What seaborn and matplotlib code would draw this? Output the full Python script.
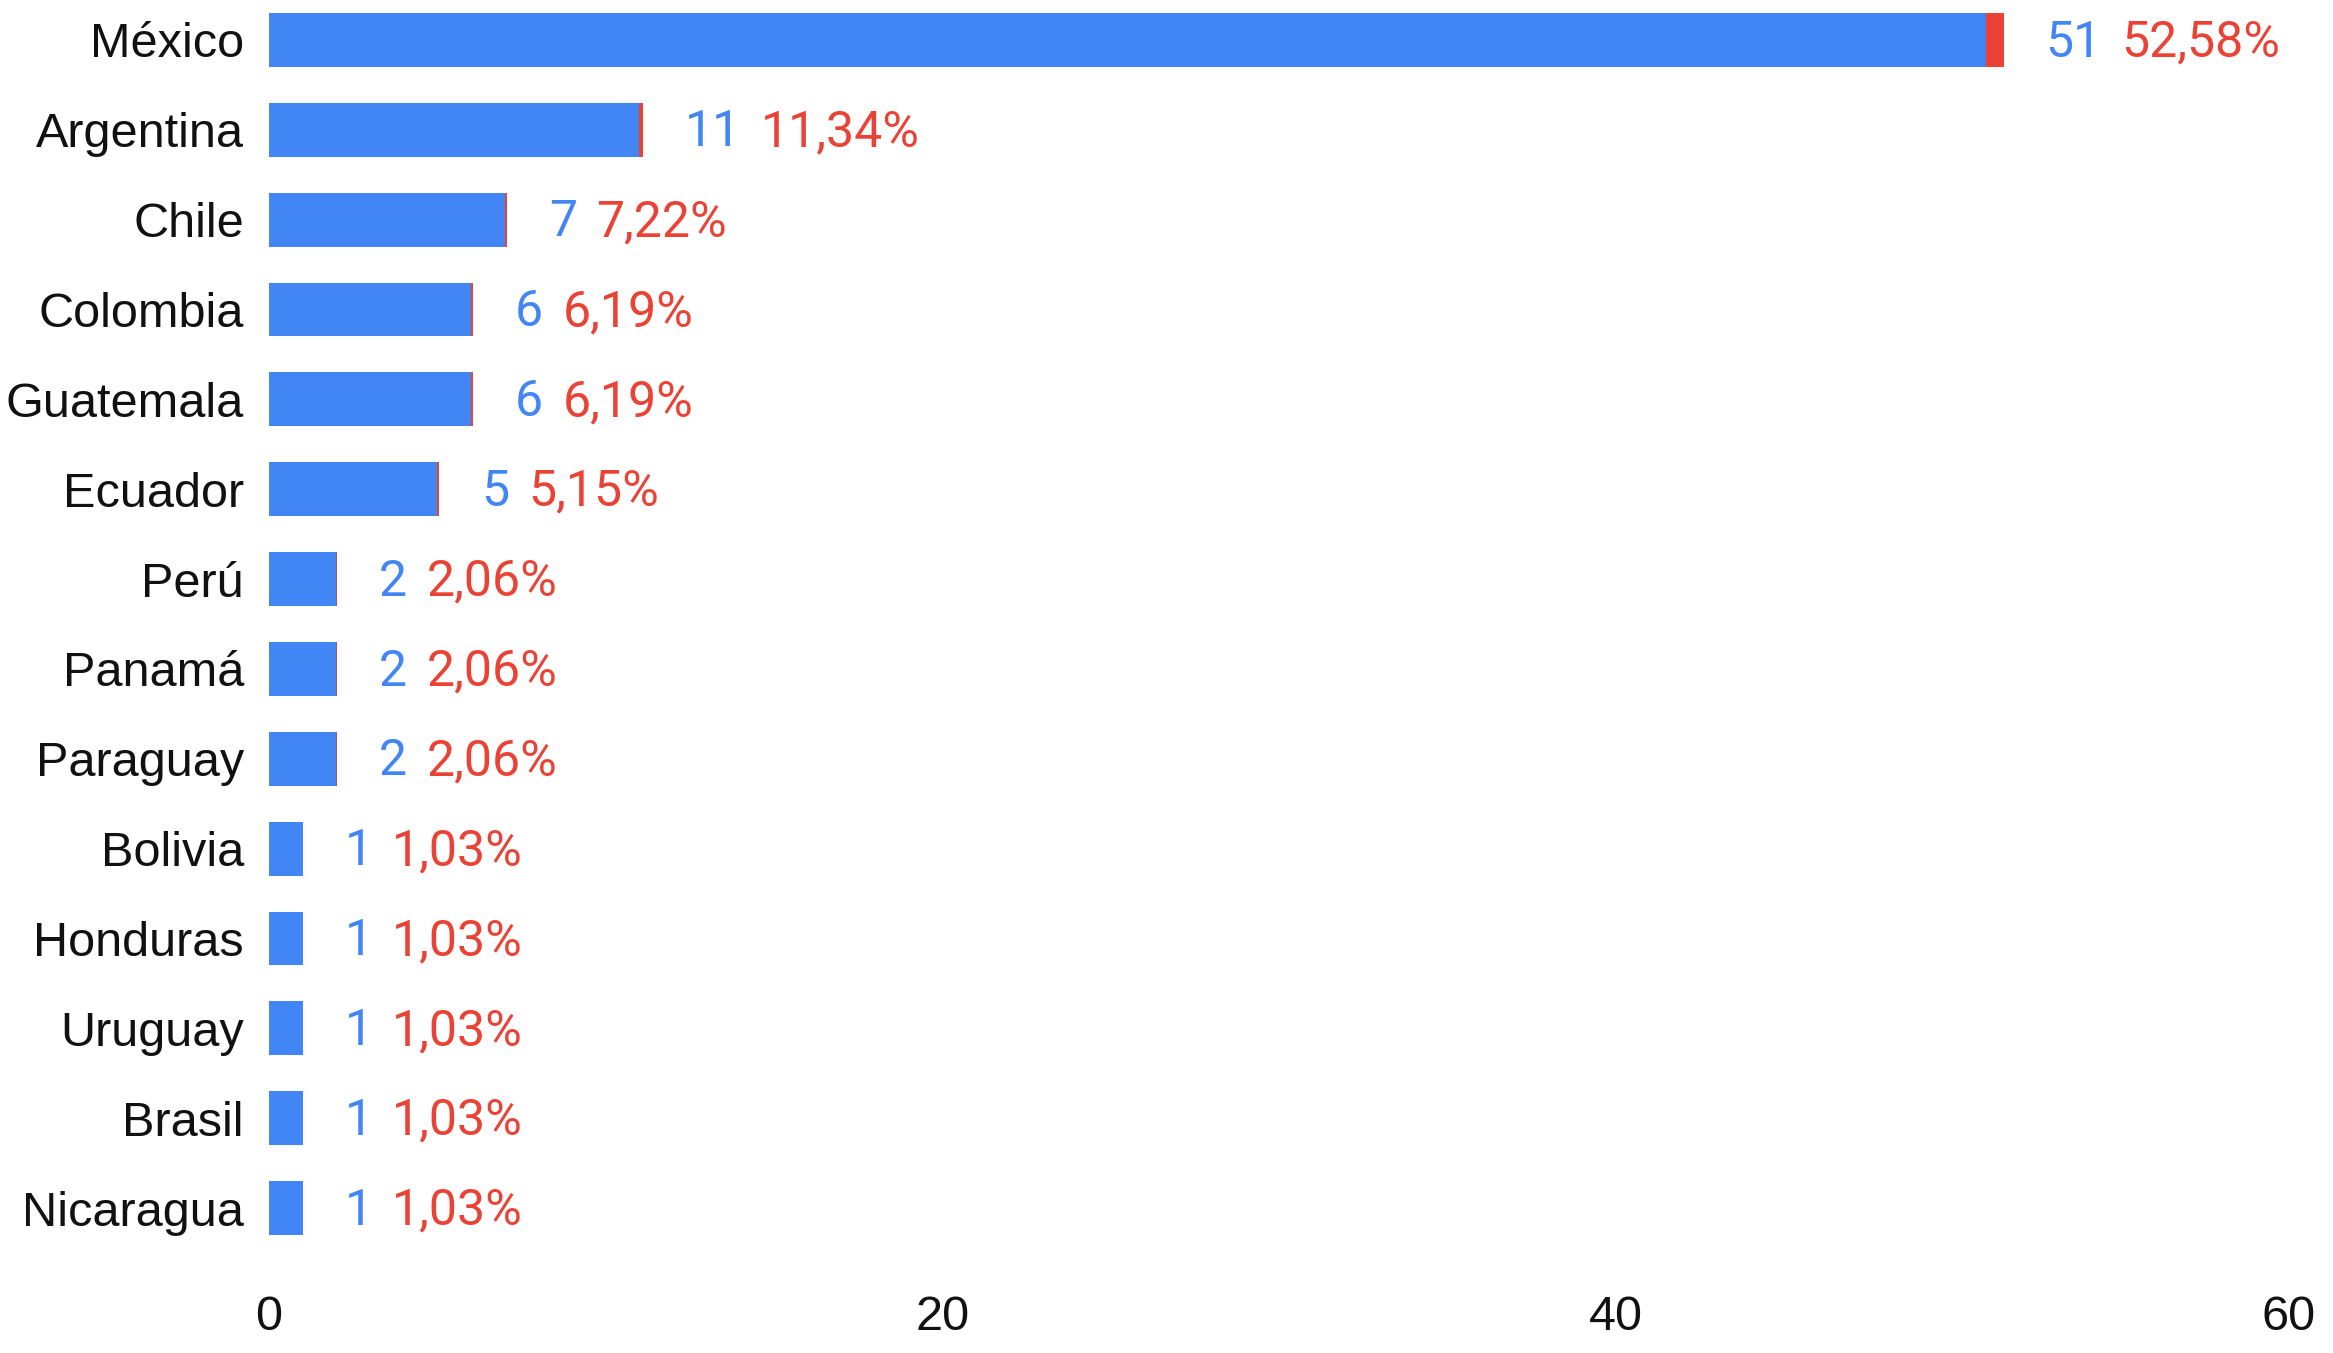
import matplotlib
matplotlib.use("Agg")
import matplotlib.pyplot as plt
import seaborn as sns
import pandas as pd

countries = ["México", "Argentina", "Chile", "Colombia", "Guatemala", "Ecuador", "Perú",
             "Panamá", "Paraguay", "Bolivia", "Honduras", "Uruguay", "Brasil", "Nicaragua"]
counts = [51, 11, 7, 6, 6, 5, 2, 2, 2, 1, 1, 1, 1, 1]
percents = [52.58, 11.34, 7.22, 6.19, 6.19, 5.15, 2.06, 2.06, 2.06, 1.03, 1.03, 1.03, 1.03, 1.03]
x_ticks = [0, 20, 40, 60]

BLUE = "#4285F4"
RED = "#EA4335"

df = pd.DataFrame({"country": countries, "count": counts, "pct": percents})
df["total"] = df["count"] + df["pct"] / 100.0

sns.set_theme(style="white")
plt.rcParams["font.family"] = ["Liberation Sans", "DejaVu Sans"]

fig = plt.figure(figsize=(23.33, 13.53), dpi=100)
ax = fig.add_axes([269 / 2333, 1 - 1253 / 1353, (2289 - 269) / 2333, 1258 / 1353])

sns.barplot(data=df, y="country", x="total", color=RED, orient="h", width=0.6,
            saturation=1, ax=ax, linewidth=0)
sns.barplot(data=df, y="country", x="count", color=BLUE, orient="h", width=0.6,
            saturation=1, ax=ax, linewidth=0)

for i, row in df.iterrows():
    a1 = ax.annotate(str(row["count"]), xy=(row["total"], i + 0.03), xytext=(30, 0),
                     textcoords="offset points", va="center", ha="left",
                     fontsize=36, color=BLUE, family=["Roboto", "DejaVu Sans"])
    pct_txt = f"{row['pct']:.2f}".replace(".", ",") + "%"
    ax.annotate(pct_txt, xy=(1, 0.5), xycoords=a1, xytext=(14, 0),
                textcoords="offset points", va="center", ha="left",
                fontsize=36, color=RED, family=["Roboto", "DejaVu Sans"])

ax.set_xlim(0, 60)
ax.set_ylim(13.5, -0.5)
ax.set_xticks(x_ticks)
ax.set_xticklabels([str(t) for t in x_ticks], fontsize=35, color="#111111")
ax.set_yticks(range(len(countries)))
ax.set_yticklabels(countries, fontsize=35, color="#111111")
ax.tick_params(axis="x", length=0, pad=30)
ax.tick_params(axis="y", length=0, pad=18)
ax.set_xlabel("")
ax.set_ylabel("")
for s in ax.spines.values():
    s.set_visible(False)
ax.grid(False)

fig.savefig("out.png", dpi=100)
